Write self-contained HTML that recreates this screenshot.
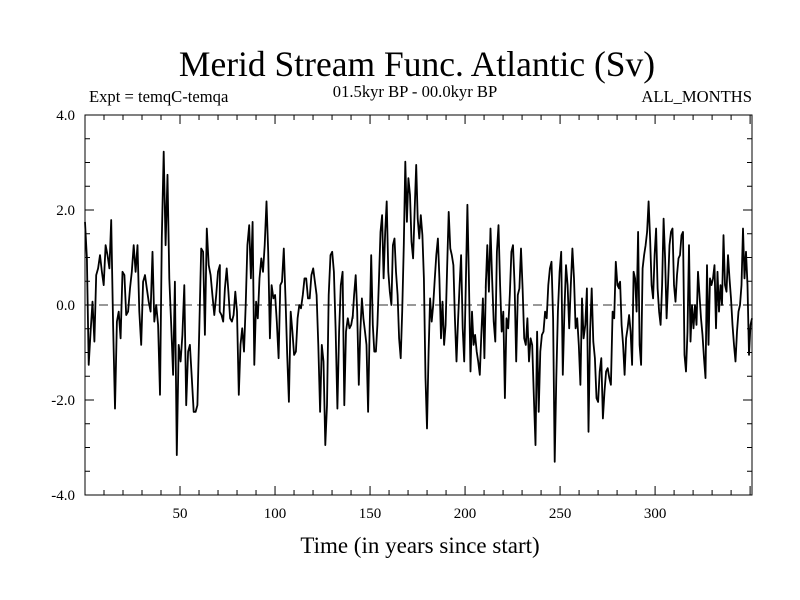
<!DOCTYPE html>
<html><head><meta charset="utf-8"><style>
body{margin:0;background:#fff;}
svg{display:block;font-family:"Liberation Serif",serif;}
</style></head><body>
<svg id="chart" width="800" height="600" viewBox="0 0 800 600">
<rect width="800" height="600" fill="#fff"/>
<text x="417" y="76" font-size="35.5" text-anchor="middle">Merid Stream Func. Atlantic (Sv)</text>
<text x="89" y="102" font-size="16.6">Expt = temqC-temqa</text>
<text x="415" y="97" font-size="16.6" text-anchor="middle">01.5kyr BP - 00.0kyr BP</text>
<text x="752" y="102" font-size="16.6" text-anchor="end">ALL_MONTHS</text>
<text x="420" y="553" font-size="23" text-anchor="middle">Time (in years since start)</text>
<g id="axes"></g>
<g id="series"></g>
</svg>
<script>
const yTickValues = [4, 2, 0, -2, -4];
const yTickLabels = ["4.0", "2.0", "0.0", "-2.0", "-4.0"];
const xTickValues = [50, 100, 150, 200, 250, 300];
const xTickLabels = ["50", "100", "150", "200", "250", "300"];
const segmentStartYears = [0, 70, 140, 210, 280];
const seg1 = [1.75,.98,-1.26,-.56,.07,-.77,.63,.77,1.05,.70,.42,1.26,1.05,.77,1.79,-.42,-2.18,-.35,-.14,-.70,.70,.63,-.21,-.14,.35,.70,1.26,.70,1.26,-.14,-.84,.49,.63,.35,.07,-.14,1.12,-.35,0,-.42,-1.89,1.40,3.23,1.26,2.74,.56,-.42,-1.47,.49,-3.16,-.84,-1.19,-.63,.42,-2.11,-.98,-.84,-1.54,-2.25,-2.25,-2.11,-.49,1.19,1.12,-.63,1.61,.84,.63,.21,-.21,.21,.70,.84];
const seg2 = [.84,-.14,-.21,-.35,.35,.77,.28,-.28,-.35,-.21,.28,-.14,-1.89,-.84,-.49,-.98,0,1.26,1.68,.56,1.75,-1.26,.07,-.28,.56,.98,.70,1.26,2.18,1.12,-.70,.42,.14,.21,-.35,-1.12,.42,.49,1.19,.14,-1.05,-2.04,-.14,-.56,-1.05,-.98,-.28,0,-.07,.21,.56,.56,.14,.14,.63,.77,.49,.21,-.84,-2.25,-.84,-1.19,-2.95,-2.11,.21,1.05,1.12,.70,-.49,-2.18,-.56,.42,.70,-2.11,-.56,-.28,-.49,-.42,-.21];
const seg3 = [-.56,-.28,.21,.63,-.14,-1.68,-.56,.14,-.28,-.56,-.84,-2.25,-.56,1.05,-.42,-.98,-.98,-.42,.56,1.54,1.89,.56,1.54,2.18,.70,.28,0,1.26,1.40,.70,.21,-.70,-1.12,-.14,1.26,3.02,1.75,2.67,2.32,1.33,.98,1.96,2.95,1.82,1.40,1.89,1.47,.56,-1.54,-2.6,-.98,.14,-.35,0,.56,1.05,1.40,.56,-.70,.07,-.84,-.42,.84,1.96,1.19,1.05,.84,-.28,-1.19,-.35,.42,1.05,-.49,-1.19,.42,2.11,.56,-1.40,-.14,-.84,-.63,-.98,-1.19,-1.47,-.63,.14,-1.12,.56];
const seg4 = [-.84,.35,1.26,.28,1.61,.56,-.35,-.77,1.12,1.68,.42,-.56,-.14,-1.96,-.28,-.49,.21,1.12,1.26,.42,-1.19,.21,.35,1.19,.35,-.70,-.84,-.28,-1.19,-.70,-.84,-1.96,-2.95,-.56,-2.25,-.98,-.63,-.56,-.14,-.28,.42,.77,.91,-.28,-3.3,-1.54,-.14,.70,1.12,-1.47,-.14,.84,.42,-.49,.42,1.19,.56,-.49,-.28,-.84,-1.68,.14,-.70,-.42,.35,-2.67,-.56,.35,-.77,-1.12,-1.96,-2.04,-1.40,-1.12,-2.39,-1.82,-1.40,-1.33,-1.54,-1.68,-.14,-.28,.91,.42,.35];
const seg5 = [.91,.42,.49,-.42,-.84,-1.47,-.70,-.49,-.21,-.56,-1.26,.70,.56,-.14,1.54,-.84,-1.26,.77,1.05,1.26,1.54,2.18,1.40,.42,.14,1.05,1.61,.35,-.14,-.42,.42,1.82,.98,-.28,.42,1.26,1.54,1.61,.42,.07,.63,.98,1.05,1.47,1.54,-1.05,-1.40,-.56,1.26,-.77,0,-.49,0,-.42,.70,.21,-.28,-.63,-1.12,-1.54,.84,-.84,.56,.42,.56,.84,-.49,.70,-.14,.42,0,1.47,.42,.28,1.05,.56,.14,-.42,-.84,-1.19,-.56,-.14,0,.42,1.61,.56,1.12,.42,-1.05,-.42,-.28];
const segments = [seg1, seg2, seg3, seg4, seg5];

const NS = "http://www.w3.org/2000/svg";
const L = 85, R = 752, T = 115, B = 495;
const xMax = 351, yMin = -4, yMax = 4, segSpan = 71;
function xs(v){ return L + v/xMax*(R-L); }
function ys(v){ return B - (v-yMin)/(yMax-yMin)*(B-T); }
function mk(tag, attrs, parent){ const e=document.createElementNS(NS,tag); for(const k in attrs) e.setAttribute(k,attrs[k]); parent.appendChild(e); return e; }
const axes = document.getElementById("axes");
const series = document.getElementById("series");

const frame = mk("rect",{x:L,y:T,width:R-L,height:B-T,fill:"none",stroke:"#000","stroke-width":1},axes);



const zl = mk("line",{x1:L,x2:R,y1:ys(0),y2:ys(0),stroke:"#333","stroke-width":1,"stroke-dasharray":"9,5"},axes);



for(let v=yMin; v<=yMax+1e-9; v+=0.5){
  const major = Math.abs(v % 2) < 1e-9;
  const len = major ? 9 : 5;
  const y = ys(v);
  const a = mk("line",{x1:L,x2:L+len,y1:y,y2:y,stroke:"#000"},axes);
  
  
  const b = mk("line",{x1:R,x2:R-len,y1:y,y2:y,stroke:"#000"},axes);
  
  
}
yTickValues.forEach((v,i)=>{
  const t = mk("text",{x:L-10,y:ys(v)+5,"font-size":15,"text-anchor":"end"},axes);
  t.textContent = yTickLabels[i];
  
  
});
for(let v=10; v<xMax; v+=10){
  const major = v % 50 === 0;
  const len = major ? 9 : 5;
  const x = xs(v);
  const a = mk("line",{x1:x,x2:x,y1:B,y2:B-len,stroke:"#000"},axes);
  
  
  const b = mk("line",{x1:x,x2:x,y1:T,y2:T+len,stroke:"#000"},axes);
  
  
}
xTickValues.forEach((v,i)=>{
  const t = mk("text",{x:xs(v),y:B+23,"font-size":15,"text-anchor":"middle"},axes);
  t.textContent = xTickLabels[i];
  
  
});

let pts = [];
segments.forEach((seg, si)=>{
  const start = segmentStartYears[si];
  seg.forEach((v,i)=>{
    const yr = start + i*segSpan/(seg.length-1);
    if (si>0 && i===0) return;
    pts.push(xs(Math.min(yr,xMax)).toFixed(1)+","+ys(v).toFixed(1));
  });
});
const line = mk("polyline",{points:pts.join(" "),fill:"none",stroke:"#000","stroke-width":1.8,"stroke-linejoin":"round"},series);


</script>
</body></html>
